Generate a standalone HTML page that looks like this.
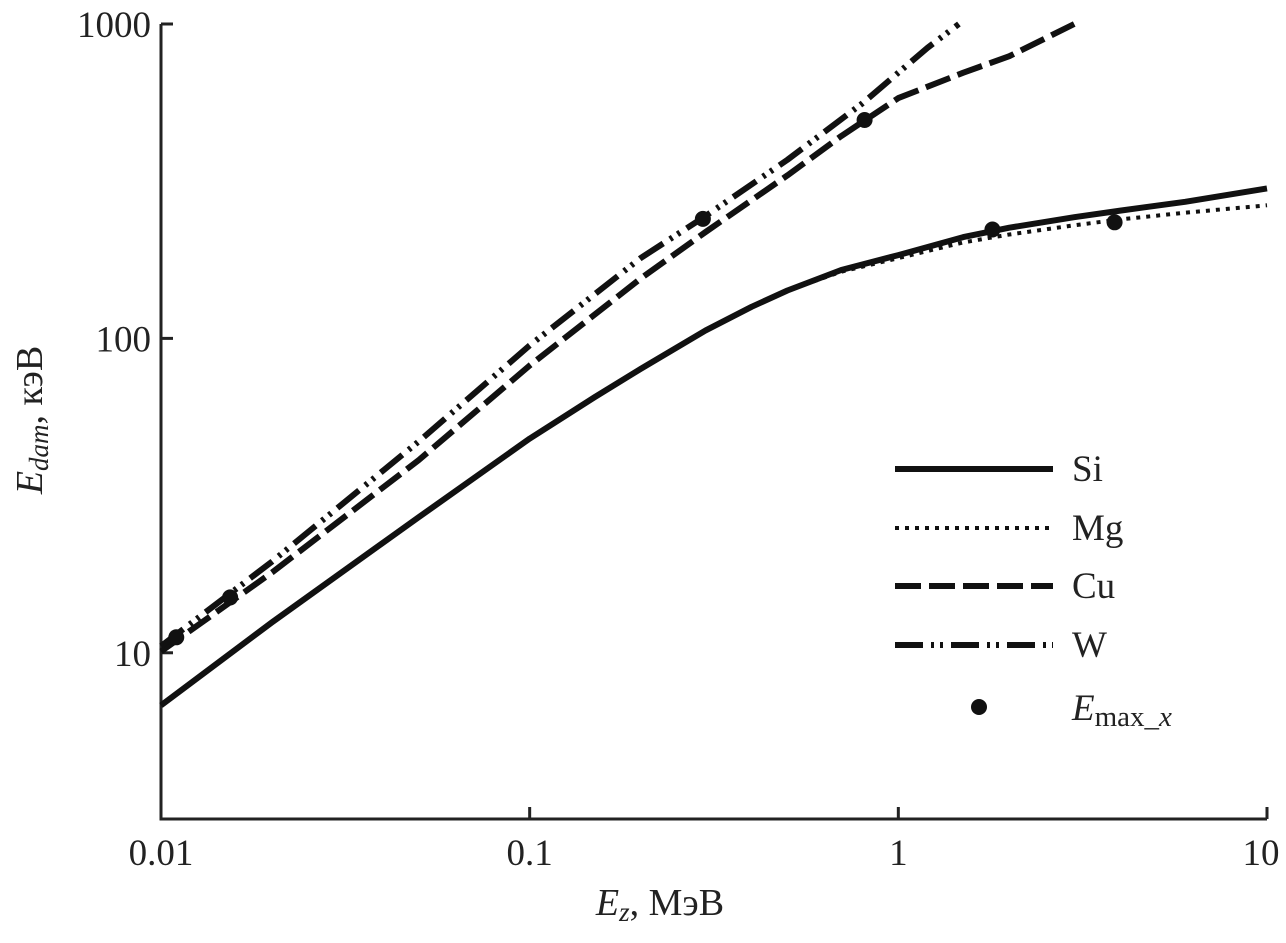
<!DOCTYPE html>
<html><head><meta charset="utf-8"><style>
body{margin:0;background:#fff}
svg text{font-family:"Liberation Serif",serif;fill:#222}
</style></head><body>
<svg width="1286" height="938" viewBox="0 0 1286 938" xmlns="http://www.w3.org/2000/svg">
<g id="axes"></g>
<g id="series"></g>
<g id="legend">
 <line x1="895" y1="469" x2="1053" y2="469" stroke="#111" stroke-width="6"/>
 <text x="1072" y="481" font-size="37">Si</text>
 <line x1="895" y1="528" x2="1053" y2="528" stroke="#111" stroke-width="4" stroke-dasharray="4,6"/>
 <text x="1072" y="540" font-size="37">Mg</text>
 <line x1="895" y1="586" x2="1053" y2="586" stroke="#111" stroke-width="6" stroke-dasharray="26,8"/>
 <text x="1072" y="598" font-size="37">Cu</text>
 <line x1="895" y1="645" x2="1053" y2="645" stroke="#111" stroke-width="6" stroke-dasharray="28,8,3,6,3,8"/>
 <text x="1072" y="657" font-size="37">W</text>
 <circle cx="979" cy="707" r="8" fill="#111"/>
 <text x="1072" y="720" font-size="37" font-style="italic">E<tspan font-style="normal" font-size="29" dy="6">max_</tspan><tspan font-size="29">x</tspan></text>
</g>
<text x="660" y="915" font-size="38" text-anchor="middle"><tspan font-style="italic">E</tspan><tspan font-style="italic" font-size="27" dy="6">z</tspan><tspan dy="-6">, МэВ</tspan></text>
<text transform="translate(42,420) rotate(-90)" font-size="38" text-anchor="middle"><tspan font-style="italic">E</tspan><tspan font-style="italic" font-size="27" dy="6">dam</tspan><tspan dy="-6">, кэВ</tspan></text>
</svg>
<script>
const xTicks=[0.01,0.1,1,10];
const xTickLabels=["0.01","0.1","1","10"];
const yTicks=[10,100,1000];
const yTickLabels=["10","100","1000"];
const siX=[0.01,0.02,0.05,0.1,0.15,0.2,0.3,0.4,0.5,0.7,1,1.5,2,3,4,6,10];
const siY=[6.8,12.5,27,48,65,80,106,126,142,165,184,210,225,243,255,272,300];
const mgX=[0.01,0.02,0.05,0.1,0.15,0.2,0.3,0.4,0.5,0.7,1,1.5,2,3,4,6,10];
const mgY=[6.8,12.5,27,48,65,80,106,126,142,163,180,202,214,229,239,251,265];
const cuX=[0.01,0.02,0.05,0.1,0.2,0.3,0.5,0.7,1,1.5,2,3];
const cuY=[10.1,18,41,82,155,218,330,440,581,700,790,1000];
const wX=[0.01,0.02,0.05,0.1,0.2,0.3,0.5,0.8,1,1.2,1.46];
const wY=[10.5,19.5,47,95,180,245,370,560,700,840,1000];
const emaxX=[0.011,0.0154,0.295,0.81,1.8,3.86];
const emaxY=[11.2,15,240,495,222,234];
const NS="http://www.w3.org/2000/svg";
const X0=161,X1=1267,Y0=819,Ytop=24;
const xmin=-2,xmax=1, ymin=Math.log10(2.96), ymax=3;
const sx=v=>X0+(Math.log10(v)-xmin)/(xmax-xmin)*(X1-X0);
const sy=v=>Y0-(Math.log10(v)-ymin)/(ymax-ymin)*(Y0-Ytop);
function mk(t,a,p){const e=document.createElementNS(NS,t);for(const k in a)e.setAttribute(k,a[k]);p.appendChild(e);return e;}
const ax=document.getElementById('axes');
const frame=mk('path',{d:`M${X0},${Ytop}V${Y0}H${X1}`,fill:'none',stroke:'#222','stroke-width':3},ax);


xTicks.forEach((v,i)=>{const x=sx(v);
 const t=mk('line',{x1:x,y1:Y0,x2:x,y2:Y0-12,stroke:'#222','stroke-width':3},ax);
 
 
 const l=mk('text',{x:i==xTicks.length-1?x-6:x,y:Y0+46,'font-size':37,'text-anchor':'middle'},ax);
 l.textContent=xTickLabels[i];
 
 
});
yTicks.forEach((v,i)=>{const y=sy(v);
 const t=mk('line',{x1:X0,y1:y,x2:X0+12,y2:y,stroke:'#222','stroke-width':3},ax);
 
 
 const l=mk('text',{x:X0-10,y:y+13,'font-size':37,'text-anchor':'end'},ax);
 l.textContent=yTickLabels[i];
 
 
});
const sg=document.getElementById('series');
function line(xs,ys,dash,w,name){
 let d='';xs.forEach((x,i)=>{d+=(i?'L':'M')+sx(x).toFixed(1)+','+sy(ys[i]).toFixed(1);});
 const p=mk('path',{d,fill:'none',stroke:'#111','stroke-width':w,'stroke-dasharray':dash,'stroke-linejoin':'round'},sg);
 
 
}
line(siX,siY,'none',6,'series-si');
line(mgX,mgY,'4,6',4,'series-mg');
line(cuX,cuY,'26,8',6,'series-cu');
line(wX,wY,'28,8,3,6,3,8',6,'series-w');
emaxX.forEach((x,i)=>{
 const c=mk('circle',{cx:sx(x),cy:sy(emaxY[i]),r:8,fill:'#111'},sg);
 
 
});
</script>
</body></html>
